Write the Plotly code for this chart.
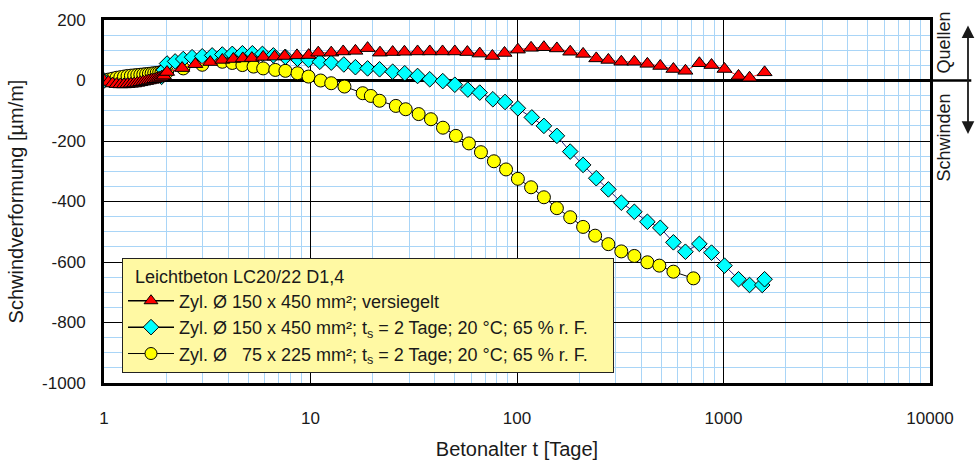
import plotly.graph_objects as go

# ---------------- data ----------------
t_early = [1.0, 1.05, 1.1, 1.15, 1.2, 1.25, 1.3, 1.35, 1.4, 1.45,
           1.5, 1.55, 1.6, 1.65, 1.7, 1.75, 1.8, 1.85, 1.9, 1.95]

red_t = t_early + [2.02, 2.39, 2.77, 3.27, 3.74, 4.23, 4.7, 5.2, 5.9, 6.7,
                   7.5, 8.6, 9.8, 10.9, 12.6, 14.4, 16.5, 18.9, 21.7, 25,
                   28.5, 33, 37.8, 43.6, 50, 57.5, 66, 76, 87, 101,
                   117, 135, 156, 181, 209, 242, 277, 320, 370, 428,
                   494, 572, 654, 764, 875, 1011, 1182, 1337, 1581]
red_v = [0, -5, -10, -12, -13, -13, -12, -11, -10, -8,
         -6, -4, -2, 0, 2, 4, 6, 9, 12, 16] + \
        [28, 41, 54, 61, 68, 71, 73, 74, 78, 79,
         81, 83, 84, 92, 92, 96, 98, 107, 92, 94,
         95, 96, 96, 96, 96, 94, 89, 81, 91, 102,
         108, 110, 106, 95, 88, 73, 68, 62, 62, 55,
         48, 38, 32, 57, 51, 38, 15, 9, 27]

cyan_t = [1.0, 1.9, 1.95, 2.02, 2.21, 2.42, 2.67, 2.99, 3.34, 3.74, 4.18, 4.68, 5.23,
          5.85, 6.61, 7.56, 8.65, 9.78, 11.1, 12.6, 14.5, 16.5, 18.9,
          21.6, 25, 28.6, 33, 37.8, 43.7, 50, 57.8, 66, 76.4,
          87.5, 101, 118, 135, 156, 181, 209, 242, 277, 320,
          370, 428, 494, 572, 654, 764, 875, 1011, 1182, 1337,
          1540, 1581]
cyan_v = [0, 12, 35,
          56, 63, 71, 77, 80, 83, 86, 88, 90, 90,
          88, 83, 78, 72, 68, 62, 59, 53, 44, 40,
          37, 29, 24, 15, 4, -2, -14, -30, -40, -62,
          -71, -92, -122, -150, -183, -235, -279, -323, -360, -404,
          -434, -467, -487, -535, -566, -540, -569, -612, -657, -676,
          -676, -657]

yel_t = t_early + [2.02, 2.42, 2.99, 3.74, 4.18, 4.68, 5.3, 5.9, 6.75, 7.56,
                   8.65, 9.78, 11.2, 12.6, 14.6, 17.9, 19.6, 21.6, 25.9, 28.9,
                   33.4, 38.3, 43.8, 50.6, 58.5, 66.9, 77.3, 88.5, 101, 117,
                   135, 156, 181, 209, 239, 277, 320, 370, 428, 489,
                   572, 715]
yel_v = [0, 3, 6, 9, 11, 13, 15, 16, 17, 18,
         19, 20, 21, 22, 23, 24, 25, 26, 28, 30] + \
        [28, 40, 52, 62, 58, 51, 46, 40, 35, 32,
         24, 13, 0, -9, -20, -42, -51, -67, -84, -95,
         -111, -128, -156, -183, -208, -237, -267, -294, -325, -353,
         -386, -422, -452, -484, -513, -541, -565, -580, -601, -612,
         -632, -654]

PAD = "\u00a0\u00a0\u00a0\u00a0"
names = ["Zyl. Ø 150 x 450 mm²; versiegelt",
         "Zyl. Ø 150 x 450 mm²; t<sub>s</sub> = 2 Tage; 20 °C; 65 % r. F." + PAD,
         "Zyl. Ø \u00a0\u00a075 x 225 mm²; t<sub>s</sub> = 2 Tage; 20 °C; 65 % r. F." + PAD]
legend_title = "Leichtbeton LC20/22 D1,4"
x_ticks = [1, 10, 100, 1000, 10000]
y_ticks = [-1000, -800, -600, -400, -200, 0, 200]

FONT = "Liberation Sans, Arial, sans-serif"
fig = go.Figure()

styles = [
    dict(symbol="triangle-up", size=13, color="#FF0000", line_color="#FF3030"),
    dict(symbol="diamond", size=12, color="#00FFFF", line_color="#202080"),
    dict(symbol="circle", size=13, color="#FFFF00", line_color="black"),
]
series = [(red_t, red_v), (cyan_t, cyan_v), (yel_t, yel_v)]

# data traces: drawn yellow, cyan, red (red on top)
for i in [2, 1, 0]:
    st = styles[i]
    fig.add_trace(go.Scatter(
        x=series[i][0], y=series[i][1], mode="lines+markers", showlegend=False,
        line=dict(color=st["line_color"], width=1),
        marker=dict(symbol=st["symbol"], size=st["size"], color=st["color"],
                    line=dict(color="black", width=1))))

# legend entries (black lines like the reference legend)
for i in [0, 1, 2]:
    st = styles[i]
    fig.add_trace(go.Scatter(
        x=[None], y=[None], mode="lines+markers", name=names[i],
        line=dict(color="black", width=1.5 if i < 2 else 1),
        marker=dict(symbol=st["symbol"], size=12, color=st["color"],
                    line=dict(color="black", width=1))))

fig.update_layout(
    width=977, height=460,
    margin=dict(l=104, r=47, t=20, b=77, autoexpand=False),
    paper_bgcolor="white", plot_bgcolor="white",
    font=dict(family=FONT, size=17, color="#1a1a1a"),
    showlegend=True,
    legend=dict(
        x=0.0218, y=0.344, xanchor="left", yanchor="top",
        bgcolor="#FFF9A3", bordercolor="#222222", borderwidth=1,
        traceorder="normal",
        title=dict(text="\u00a0\u00a0" + legend_title, font=dict(size=18)),
        font=dict(size=18), itemwidth=46, tracegroupgap=0,
    ),
)

fig.update_xaxes(
    type="log", range=[0, 4], automargin=False,
    tickvals=x_ticks, ticktext=[str(v) for v in x_ticks],
    ticks="", ticklabelstandoff=18,
    showgrid=True, gridcolor="black", gridwidth=1,
    minor=dict(dtick="D1", showgrid=True, gridcolor="#A9D5F7", gridwidth=1, ticks=""),
    showline=True, mirror=True, linecolor="black", linewidth=3,
    title=dict(text="Betonalter t [Tage]", standoff=18),
    zeroline=False,
)
fig.update_yaxes(
    range=[-1000, 200], tickvals=y_ticks, ticktext=[str(v) for v in y_ticks],
    automargin=False,
    ticks="", ticklabelstandoff=12,
    showgrid=True, gridcolor="black", gridwidth=1,
    minor=dict(dtick=50, showgrid=True, gridcolor="#A9D5F7", gridwidth=1, ticks=""),
    zeroline=True, zerolinecolor="black", zerolinewidth=3,
    showline=True, mirror=True, linecolor="black", linewidth=3,
    title=dict(text="Schwindverformung [µm/m]", standoff=14),
)

# zero line extension to the right and the double arrow
fig.add_shape(type="line", xref="paper", yref="y", x0=1.0, x1=1.05, y0=0, y1=0,
              line=dict(color="black", width=2.5))
fig.add_annotation(xref="paper", yref="paper", x=1.046, y=0.985,
                   ax=0, ay=110, axref="pixel", ayref="pixel",
                   text="", showarrow=True, arrowhead=2, startarrowhead=2,
                   arrowside="end+start", arrowsize=1.4, arrowwidth=1.8,
                   arrowcolor="#1a1a1a")
fig.add_annotation(xref="paper", yref="y", x=1.032, y=127, text="Quellen",
                   showarrow=False, textangle=-90, font=dict(size=18))
fig.add_annotation(xref="paper", yref="y", x=1.032, y=-187, text="Schwinden",
                   showarrow=False, textangle=-90, font=dict(size=18))

fig.write_html("out.html")
